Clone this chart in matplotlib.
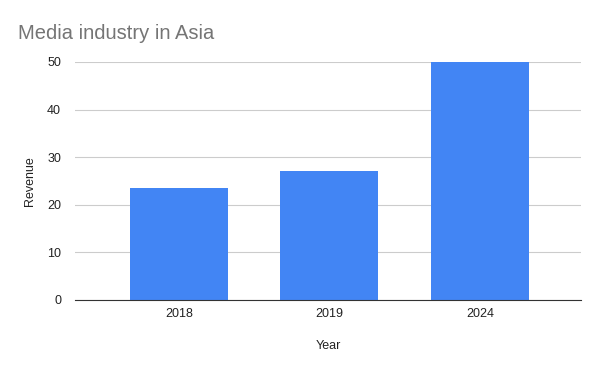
import matplotlib.pyplot as plt

plt.rcParams['font.family'] = ['Liberation Sans', 'DejaVu Sans']

years = ['2018', '2019', '2024']
revenue = [23.5, 27, 50]

fig = plt.figure(figsize=(6, 3.71), dpi=100)
ax = fig.add_axes([0.125, 0.1914, 0.843, 0.6415])

x = list(range(len(years)))
ax.bar(x, revenue, width=0.65, color='#4285F4', zorder=3)

ax.set_xlim(-0.69, 2.67)
ax.set_ylim(0, 50)
ax.set_yticks([0, 10, 20, 30, 40, 50])
ax.set_xticks(x)
ax.set_xticklabels(years)
ax.grid(axis='y', color='#cccccc', linewidth=0.8, zorder=0)
for s in ['top', 'right', 'left']:
    ax.spines[s].set_visible(False)
ax.spines['bottom'].set_color('#333333')
ax.spines['bottom'].set_zorder(4)
ax.tick_params(length=0, labelsize=9, colors='#222222', pad=6)
ax.tick_params(axis='y', pad=10)

ax.set_xlabel('Year', fontsize=9, color='#222222', labelpad=14)
ax.set_ylabel('Revenue', fontsize=9, color='#222222', labelpad=8)
fig.text(0.03, 0.895, 'Media industry in Asia', fontsize=14.5, color='#757575',
         va='baseline')

plt.savefig('out.png', dpi=100)
